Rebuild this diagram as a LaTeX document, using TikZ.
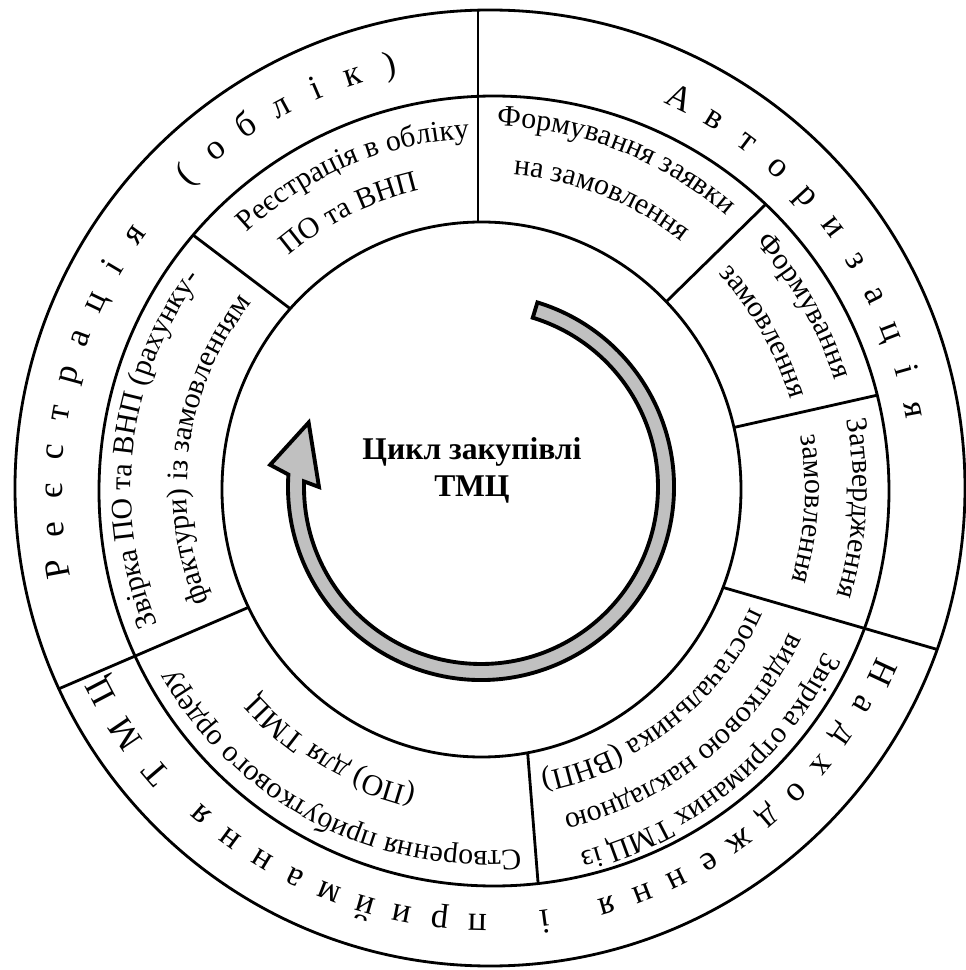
\documentclass[tikz,border=0pt]{standalone}
\usepackage{fontspec}
\setmainfont{Liberation Serif}
\usetikzlibrary{decorations.text}
\definecolor{arrowgray}{RGB}{192,192,192}

\newcommand{\ringfont}{\fontsize{17}{20}\selectfont}
\newcommand{\rimfont}{\fontsize{20}{24}\selectfont}

% text on a clockwise arc: centre angle, baseline radius, text
\newcommand{\arctext}[3]{%
  \path[decorate, decoration={text along path, text align=center,
      text={|\ringfont|#3}}]
    ({#1+80}:#2) arc[start angle={#1+80}, end angle={#1-80}, radius=#2];}

% spaced letters in the outer ring: name, first angle, step, letters
\newcommand{\rimword}[4]{%
  \foreach \ch [count=\i from 0] in {#4}
    \node[rimletter, rotate={#2-\i*#3-90}] (#1\i) at ({#2-\i*#3}:425) {\ch};}

\begin{document}
\begin{tikzpicture}[
    x=0.02cm, y=0.02cm,
    ring/.style={line width=1.6pt},
    divider/.style={line width=1.6pt, shorten <=-12pt, shorten >=-12pt},
    rimletter/.style={font=\rimfont, anchor=base, inner sep=0pt},
    cyclearrow/.style={fill=arrowgray, draw=black, line width=2.2pt, line join=miter}
]
    \useasboundingbox (-487,-481) rectangle (479,489);

    % Dividers through both rings
    \begin{scope}
        \clip (3,1) ellipse[x radius=475, y radius=478];
        \draw[divider] (-9,267) -- (-9,479);
        \draw[divider] (238,-99) -- (459,-163);
        \draw[divider] (-240,-119) -- (-424,-198);
    \end{scope}

    % Dividers of the step ring
    \begin{scope}
        \clip (7,-2) circle[radius=395];
        \draw[divider] (181,189) -- (278,284);
        \draw[divider] (249,62) -- (391,94);
        \draw[divider] (41,-268) -- (51,-393);
        \draw[divider] (-290,251) -- (-199,182);
    \end{scope}

    % Rings
    \draw[ring, fill=white] (-5.5,-0.5) ellipse[x radius=259.5, y radius=267.5];
    \draw[ring] (7,-2) circle[radius=395];
    \draw[ring] (3,1) ellipse[x radius=475, y radius=478];

    % Outer ring
    \rimword{avt}{63.8}{5.33}{А,в,т,о,р,и,з,а,ц,і,я}
    \rimword{reg}{190.5}{5.15}{Р,е,є,с,т,р,а,ц,і,я}
    \rimword{obl}{133.8}{5.15}{{(},о,б,л,і,к,{)}}
    \rimword{nad}{-24.9}{4.9}{Н,а,д,х,о,д,ж,е,н,н,я}
    \rimword{and}{-82.3}{5}{і}
    \rimword{pry}{-91.3}{5}{п,р,и,й,м,а,н,н,я}
    \rimword{tmc}{-139.4}{6.5}{Т,М,Ц}

    % Step ring
    \arctext{68.6}{363}{Формування заявки}
    \arctext{68.5}{315}{на замовлення}
    \arctext{30}{364}{Формування}
    \arctext{29.7}{316}{замовлення}
    \arctext{-3}{366}{Затвердження}
    \arctext{-3.6}{318}{замовлення}
    \arctext{-50.7}{375}{Звірка отриманих ТМЦ із}
    \arctext{-51}{335}{видатковою накладною}
    \arctext{-51.8}{289}{постачальника (ВНП)}
    \arctext{-117.5}{362}{Створення прибуткового ордеру}
    \arctext{-120.7}{308}{(ПО) для ТМЦ}
    \arctext{173}{356}{Звірка ПО та ВНП (рахунку-}
    \arctext{171.8}{300}{фактури) із замовленням}
    \arctext{113}{351}{Реєстрація в обліку}
    \arctext{116.5}{306}{ПО та ВНП}

    % Cycle arrow
    \begin{scope}[shift={(-6,2)}]
        \draw[cyclearrow] (73:193) arc[start angle=73, end angle=-183.7, radius=193]
            -- (-186:212) -- (-200.5:184) -- (-180:162) -- (-181.8:177)
            arc[start angle=-181.8, end angle=73, radius=177] -- cycle;
    \end{scope}

    \node[font=\bfseries\fontsize{18}{21}\selectfont, align=center] (title) at (-15,19) {Цикл закупівлі\\ТМЦ};
\end{tikzpicture}
\end{document}
